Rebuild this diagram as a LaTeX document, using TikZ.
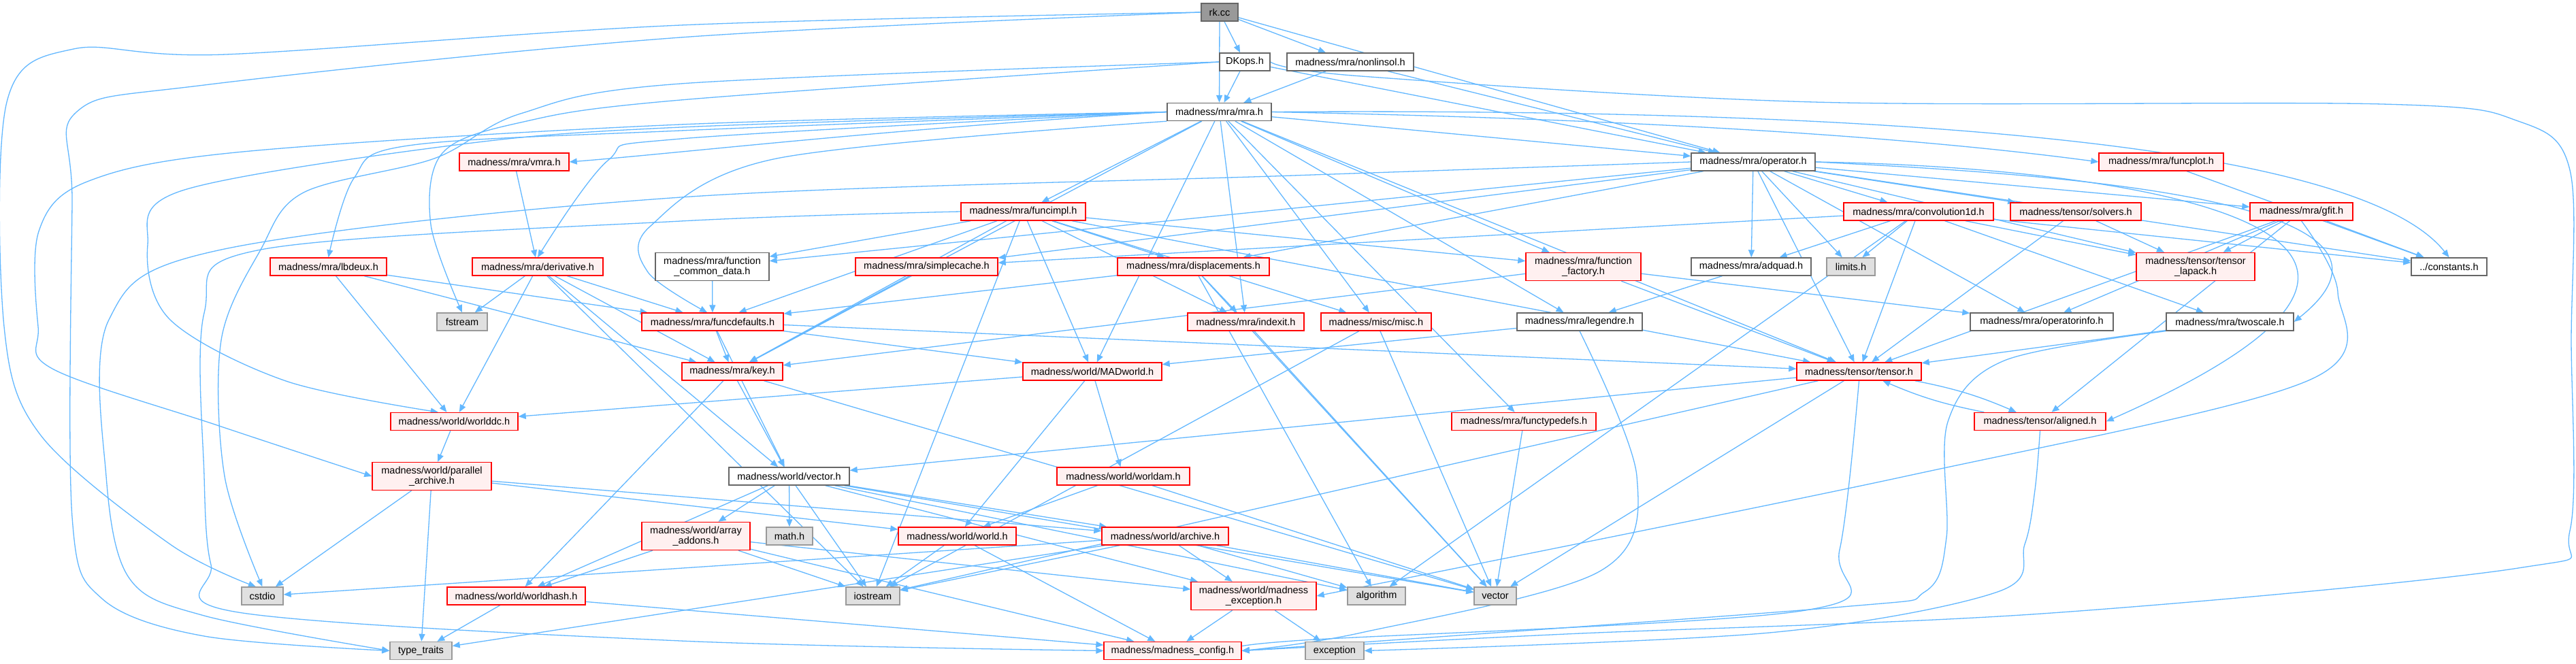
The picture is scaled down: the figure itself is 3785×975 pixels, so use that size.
\documentclass[tikz,border=0pt]{standalone}
\usepackage{fontspec}
\setmainfont{Liberation Sans}
\usetikzlibrary{arrows.meta}
\definecolor{edgec}{HTML}{63B8FF}
\definecolor{redfill}{HTML}{FFF0F0}
\definecolor{graybd}{HTML}{999999}
\definecolor{darkbd}{HTML}{666666}
\definecolor{grayfill}{HTML}{E0E0E0}
\pgfdeclarelayer{bg}
\pgfsetlayers{bg,main}
\newcommand{\mknode}[7]{\node[#6, minimum width=#4pt, minimum height=#5pt] (#1) at (#2,#3) {#7};}
\begin{document}
\begin{tikzpicture}[x=1pt,y=-1pt,
  nd/.style={draw, line width=1.4pt, inner sep=0pt, align=center, font=\fontsize{14.5}{15.5}\selectfont},
  redn/.style={nd, fill=redfill, draw=red},
  whtn/.style={nd, fill=white, draw=darkbd},
  gryn/.style={nd, fill=grayfill, draw=graybd},
  topn/.style={nd, fill=graybd, draw=darkbd},
  e/.style={draw=edgec, line width=1.3pt, -{Triangle[length=11pt,width=9pt]}},
  sm/.style={smooth, tension=0.55}]
\useasboundingbox (0,0) rectangle (3785,975);

\mknode{rk}{1792}{18}{54}{26}{topn}{rk.cc}
\mknode{dkops}{1829}{91}{74}{26}{whtn}{DKops.h}
\mknode{nonlin}{1984}{91}{186}{26}{whtn}{madness/mra/nonlinsol.h}
\mknode{mra}{1791.5}{164.5}{153}{26}{whtn}{madness/mra/mra.h}
\mknode{oper}{2576}{238}{182}{26}{whtn}{madness/mra/operator.h}
\mknode{vmra}{755.5}{238}{161}{26}{redn}{madness/mra/vmra.h}
\mknode{funcplot}{3175.5}{238}{183}{26}{redn}{madness/mra/funcplot.h}
\mknode{funcimpl}{1503.5}{311}{183}{26}{redn}{madness/mra/funcimpl.h}
\mknode{conv}{2819}{311}{220}{26}{redn}{madness/mra/convolution1d.h}
\mknode{solvers}{3050}{311}{192}{26}{redn}{madness/tensor/solvers.h}
\mknode{gfit}{3381.5}{311}{151}{26}{redn}{madness/mra/gfit.h}
\mknode{lbdeux}{482.5}{392}{171}{26}{redn}{madness/mra/lbdeux.h}
\mknode{deriv}{790}{392}{192}{26}{redn}{madness/mra/derivative.h}
\mknode{fcd}{1046.5}{392}{167}{41}{whtn}{madness/mra/function\\\_common\_data.h}
\mknode{simple}{1361.5}{392}{209}{26}{redn}{madness/mra/simplecache.h}
\mknode{displ}{1753.5}{392}{223}{26}{redn}{madness/mra/displacements.h}
\mknode{ffac}{2326.5}{392}{169}{41}{redn}{madness/mra/function\\\_factory.h}
\mknode{adquad}{2573}{392}{176}{26}{whtn}{madness/mra/adquad.h}
\mknode{limits}{2719.5}{392}{71}{26}{gryn}{limits.h}
\mknode{lapack}{3226}{392}{174}{41}{redn}{madness/tensor/tensor\\\_lapack.h}
\mknode{const}{3598.5}{392}{111}{26}{whtn}{../constants.h}
\mknode{fstream}{679}{473}{74}{26}{gryn}{fstream}
\mknode{fdef}{1047}{473}{208}{26}{redn}{madness/mra/funcdefaults.h}
\mknode{indexit}{1830.5}{473}{171}{26}{redn}{madness/mra/indexit.h}
\mknode{misc}{2022}{473}{162}{26}{redn}{madness/misc/misc.h}
\mknode{legendre}{2321}{473}{184}{26}{whtn}{madness/mra/legendre.h}
\mknode{opinfo}{3000}{473}{210}{26}{whtn}{madness/mra/operatorinfo.h}
\mknode{twoscale}{3276.5}{473}{187}{26}{whtn}{madness/mra/twoscale.h}
\mknode{key}{1076}{546}{148}{26}{redn}{madness/mra/key.h}
\mknode{madworld}{1605}{546}{204}{26}{redn}{madness/world/MADworld.h}
\mknode{tensor}{2731.5}{546}{183}{26}{redn}{madness/tensor/tensor.h}
\mknode{worlddc}{667.5}{619.5}{187}{26}{redn}{madness/world/worlddc.h}
\mknode{functypedefs}{2239}{619.5}{212}{26}{redn}{madness/mra/functypedefs.h}
\mknode{aligned}{2997.5}{619.5}{193}{26}{redn}{madness/tensor/aligned.h}
\mknode{parch}{634.5}{700}{175}{41}{redn}{madness/world/parallel\\\_archive.h}
\mknode{vectorh}{1159.5}{700}{177}{26}{whtn}{madness/world/vector.h}
\mknode{worldam}{1650.5}{700}{195}{26}{redn}{madness/world/worldam.h}
\mknode{arraya}{1022.5}{788}{159}{41}{redn}{madness/world/array\\\_addons.h}
\mknode{math}{1160}{788}{68}{26}{gryn}{math.h}
\mknode{world}{1406.5}{788}{173}{26}{redn}{madness/world/world.h}
\mknode{archive}{1712}{788}{186}{26}{redn}{madness/world/archive.h}
\mknode{cstdio}{385.5}{876}{61}{26}{gryn}{cstdio}
\mknode{worldhash}{758.5}{876}{203}{26}{redn}{madness/world/worldhash.h}
\mknode{iostream}{1282.5}{876}{79}{26}{gryn}{iostream}
\mknode{mexc}{1842}{876}{184}{41}{redn}{madness/world/madness\\\_exception.h}
\mknode{algorithm}{2022.5}{876}{85}{26}{gryn}{algorithm}
\mknode{vector}{2197}{876}{62}{26}{gryn}{vector}
\mknode{typetraits}{618.5}{956.5}{91}{26}{gryn}{type\_traits}
\mknode{mconfig}{1723}{956.5}{202}{26}{redn}{madness/madness\_config.h}
\mknode{exception}{1961}{956.5}{86}{26}{gryn}{exception}

\begin{pgfonlayer}{bg}
\fill[white] (0,0) rectangle (3785,975);
% rk.cc
\draw[e] (rk) -- (dkops);
\draw[e] (rk) -- (nonlin);
\draw[e] (rk) -- (mra);
\draw[e] (rk) -- (oper);
\draw[e] plot[sm] coordinates {(rk.west) (1000,37) (332,80) (108,72) (10,150) (6,480) (60,640) (250,800) (cstdio.125)};
\draw[e] plot[sm] coordinates {(rk.west) (1000,55) (300,125) (112,165) (106,300) (106,760) (150,880) (300,935) (typetraits.west)};
% DKops.h
\draw[e] (dkops) -- (mra);
\draw[e] (dkops) -- (oper);
\draw[e] plot[sm] coordinates {(dkops.west) (1000,147) (765,180) (650,225) (633,330) (fstream.north)};
\draw[e] plot[sm] coordinates {(dkops.west) (1000,123) (765,167) (638,233) (446,283) (383,367) (325,500) (330,700) (cstdio.north)};
\draw[e] plot[sm] coordinates {(dkops.east) (2000,112) (2665,150) (3500,153) (3700,178) (3776,250) (3778,500) (3776,780) (3700,835) (3000,902) (2300,932) (mconfig.east)};
% nonlinsol.h
\draw[e] (nonlin) -- (mra);
\draw[e] (nonlin) -- (oper);
% mra.h
\draw[e] (mra) -- (oper);
\draw[e] (mra.west) .. controls (1300,190) and (1000,225) .. (vmra.east);
\draw[e] (mra) -- (funcimpl);
\draw[e] plot[sm] coordinates {(mra.west) (1000,192) (600,214) (520,262) (lbdeux.north)};
\draw[e] plot[sm] coordinates {(mra.west) (1000,204) (893,236) (deriv.north)};
\draw[e] plot[sm] coordinates {(mra.west) (1000,187) (670,213) (268,280) (217,360) (250,470) (420,560) (worlddc.150)};
\draw[e] plot[sm] coordinates {(mra.west) (1000,183) (357,223) (128,267) (57,340) (56,480) (77,542) (319,625) (parch.west)};
\draw[e] plot[sm] coordinates {(mra.south west) (1141,233) (955,333) (952,400) (fdef.120)};
\draw[e] (mra) -- (key);
\draw[e] (mra) -- (madworld);
\draw[e] (mra) -- (indexit);
\draw[e] (mra) -- (misc);
\draw[e] (mra) -- (ffac);
\draw[e] (mra) -- (functypedefs);
\draw[e] (mra) -- (legendre);
\draw[e] (mra) -- (tensor);
\draw[e] (mra.east) .. controls (2400,175) and (2800,200) .. (funcplot.west);
\draw[e] (mra.east) .. controls (2600,160) and (3450,190) .. (const.north);
% operator.h
\draw[e] (oper) -- (adquad);
\draw[e] (oper) -- (limits);
\draw[e] (oper) -- (conv);
\draw[e] (oper) -- (displ);
\draw[e] (oper) -- (fcd);
\draw[e] (oper) -- (simple);
\draw[e] (oper) -- (solvers);
\draw[e] (oper) -- (gfit);
\draw[e] (oper) -- (lapack);
\draw[e] (oper) -- (const);
\draw[e] (oper) -- (opinfo);
\draw[e] (oper) -- (tensor);
\draw[e] (oper.east) .. controls (3000,255) and (3600,290) .. (twoscale.east);
\draw[e] (oper.east) .. controls (3100,245) and (3750,330) .. (aligned.east);
\draw[e] plot[sm] coordinates {(oper.west) (1900,258) (1000,290) (325,367) (160,470) (156,700) (190,850) (300,905) (typetraits.west)};
% funcimpl.h
\draw[e] (funcimpl) -- (fcd);
\draw[e] (funcimpl) -- (fdef);
\draw[e] (funcimpl) -- (key);
\draw[e] (funcimpl) -- (displ);
\draw[e] (funcimpl) -- (indexit);
\draw[e] (funcimpl) -- (ffac);
\draw[e] (funcimpl) -- (madworld);
\draw[e] (funcimpl) -- (tensor);
\draw[e] (funcimpl) -- (misc);
\draw[e] (funcimpl) -- (iostream);
\draw[e] plot[sm] coordinates {(funcimpl.west) (1000,325) (383,367) (300,460) (300,700) (310,830) (350,900) (1000,942) (mconfig.west)};
% convolution1d.h
\draw[e] (conv) -- (adquad);
\draw[e] (conv) -- (limits);
\draw[e] (conv) -- (simple);
\draw[e] (conv) -- (tensor);
\draw[e] (conv) -- (const);
\draw[e] (conv) -- (lapack);
\draw[e] (conv) -- (twoscale);
\draw[e] (conv) -- (algorithm);
% solvers.h, gfit.h, funcplot.h
\draw[e] (solvers) -- (lapack);
\draw[e] (solvers) -- (tensor);
\draw[e] (gfit) -- (lapack);
\draw[e] (gfit) -- (const);
\draw[e] (gfit) -- (opinfo);
\draw[e] (gfit) -- (tensor);
\draw[e] (gfit) -- (aligned);
\draw[e] plot[sm] coordinates {(gfit.south) (3435,430) (3390,560) (2800,700) (mexc.east)};
\draw[e] (funcplot) -- (const);
% second level
\draw[e] (lbdeux) -- (fdef);
\draw[e] (lbdeux) -- (worlddc);
\draw[e] (lbdeux) -- (key);
\draw[e] (deriv) -- (fstream);
\draw[e] (deriv) -- (fdef);
\draw[e] (deriv) -- (key);
\draw[e] (deriv) -- (worlddc);
\draw[e] (deriv) -- (iostream);
\draw[e] (deriv) -- (vectorh);
\draw[e] (vmra) -- (deriv);
\draw[e] (fcd) -- (fdef);
\draw[e] (simple) -- (key);
\draw[e] (displ) -- (fdef);
\draw[e] (displ) -- (indexit);
\draw[e] (displ) -- (vector);
\draw[e] (displ) -- (algorithm);
\draw[e] (ffac) -- (key);
\draw[e] (ffac) -- (opinfo);
\draw[e] (ffac) -- (tensor);
\draw[e] (adquad) -- (legendre);
\draw[e] (legendre) -- (madworld);
\draw[e] plot[sm] coordinates {(legendre.south) (2405,700) (2350,840) (2000,930) (mconfig.east)};
\draw[e] (fdef) -- (key);
\draw[e] (fdef) -- (madworld);
\draw[e] (fdef) -- (vectorh);
\draw[e] (fdef) -- (tensor);
\draw[e] (indexit) -- (vector);
\draw[e] (misc) -- (iostream);
\draw[e] (misc) -- (vector);
\draw[e] (key) -- (vectorh);
\draw[e] (key) -- (worldhash);
\draw[e] (key) -- (vector);
\draw[e] (madworld) -- (worlddc);
\draw[e] (madworld) -- (world);
\draw[e] (madworld) -- (worldam);
\draw[e] (tensor) to[bend left=6] (aligned);
\draw[e] (aligned) to[bend left=6] (tensor);
\draw[e] (tensor) -- (vector);
\draw[e] (tensor) -- (vectorh);
\draw[e] (tensor) -- (iostream);
\draw[e] plot[sm] coordinates {(tensor.south) (2703,808) (2653,897) (1900,942) (mconfig.east)};
\draw[e] (functypedefs) -- (vector);
\draw[e] plot[sm] coordinates {(aligned.south) (2990,720) (2975,800) (2935,870) (2600,930) (exception.east)};
\draw[e] (twoscale) -- (tensor);
\draw[e] plot[sm] coordinates {(twoscale.south west) (2945,530) (2862,620) (2860,790) (2828,870) (2695,893) (mconfig.east)};
% world level
\draw[e] (worlddc) -- (parch);
\draw[e] (parch) -- (cstdio);
\draw[e] (parch) -- (typetraits);
\draw[e] (parch) -- (archive);
\draw[e] (parch) -- (world);
\draw[e] (vectorh) -- (arraya);
\draw[e] (vectorh) -- (math);
\draw[e] (vectorh) -- (iostream);
\draw[e] (vectorh) -- (archive);
\draw[e] (vectorh) -- (mexc);
\draw[e] (vectorh) -- (worldhash);
\draw[e] (vectorh) -- (vector);
\draw[e] (vectorh) -- (algorithm);
\draw[e] (arraya) -- (iostream);
\draw[e] (arraya) -- (worldhash);
\draw[e] (arraya) -- (mconfig);
\draw[e] (arraya) -- (mexc);
\draw[e] (worldam) -- (world);
\draw[e] (worldam) -- (vector);
\draw[e] (world) -- (iostream);
\draw[e] (world) -- (mconfig);
\draw[e] (archive) -- (iostream);
\draw[e] (archive) -- (mexc);
\draw[e] (archive) -- (cstdio);
\draw[e] (archive) -- (algorithm);
\draw[e] (archive) -- (vector);
\draw[e] (archive) -- (typetraits);
\draw[e] (worldhash) -- (typetraits);
\draw[e] (worldhash) -- (mconfig);
\draw[e] (mexc) -- (mconfig);
\draw[e] (mexc) -- (exception);
\end{pgfonlayer}
\end{tikzpicture}
\end{document}
